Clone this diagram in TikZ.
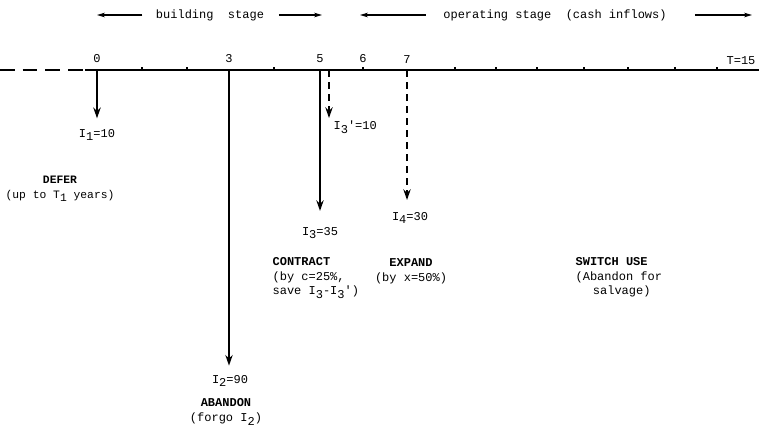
\documentclass[tikz,border=0pt]{standalone}
\usepackage{fontspec}
\setmonofont{Liberation Mono}
\usepackage{tikz}
\usetikzlibrary{positioning, arrows.meta}

% chỉ số dưới kiểu máy chữ
\newcommand{\dn}[1]{\raisebox{-0.55ex}{#1}}

\begin{document}
\begin{tikzpicture}[>={Stealth[length=8pt, width=5.5pt]}, x=0.75pt, y=-0.75pt,
    txt/.style={font=\fontsize{9}{11}\selectfont\ttfamily, inner sep=1pt},
    captxt/.style={txt, align=center},
    stagearrow/.style={-{Stealth[length=6pt, width=3.5pt]}, line width=0.9pt},
    flow/.style={->, line width=1.7pt},
    opt/.style={->, line width=1.4pt, dash pattern=on 5pt off 4pt}]

    \useasboundingbox (0,0) rectangle (759,430);

    % =================================================================
    % TRỤC THỜI GIAN
    % =================================================================
    \draw[line width=1.1pt, dash pattern=on 11pt off 6pt] (0,70) -- (85,70);
    \draw[line width=1.1pt] (85,70) -- (759,70);

    \foreach \k/\x in {0/97, 1/142, 2/187, 3/229, 4/274, 5/320, 6/363, 7/407,
                       8/455, 9/496, 10/537, 11/584, 12/628, 13/675, 14/717}
        \coordinate (t\k) at (\x,70);
    \foreach \k in {1,2,4,6,8,9,10,11,12,13,14}
        \draw[line width=0.8pt] (t\k) -- ++(0,-3);
    \foreach \k in {0,3,5,6,7}
        \node[txt, above=4pt of t\k] (y\k) {\k};
    \node[txt, anchor=south east] (yT) at (757,66) {T=15};

    % Các giai đoạn
    \node[txt] (build) at (210,15) {building\ \ stage};
    \coordinate (b0) at (97,15);
    \coordinate (b1) at (322,15);
    \draw[stagearrow, shorten <=9pt] (build) -- (b0);
    \draw[stagearrow, shorten <=10pt] (build) -- (b1);

    \node[txt] (oper) at (555,15) {operating stage\ \ (cash inflows)};
    \coordinate (o0) at (360,15);
    \coordinate (o1) at (752,15);
    \draw[stagearrow, shorten <=12pt] (oper) -- (o0);
    \draw[stagearrow, shorten <=20pt] (oper) -- (o1);

    % =================================================================
    % CÁC KHOẢN ĐẦU TƯ
    % =================================================================
    \node[txt] (i1) at (97,135) {I\dn{1}=10};
    \draw[flow, shorten >=7pt] (t0) -- (i1);

    \node[txt] (i2) at (230,381) {I\dn{2}=90};
    \draw[flow, shorten >=6pt] (t3) -- (t3 |- i2.north);

    \node[txt] (i3) at (320,233) {I\dn{3}=35};
    \draw[flow, shorten >=11pt] (t5) -- (i3);

    \coordinate (t5b) at (329,70);
    \coordinate (c3) at (329,118);
    \node[txt, anchor=west] (i3p) at (332,127) {I\dn{3}'=10};
    \draw[opt] (t5b) -- (c3);

    \node[txt] (i4) at (410,218) {I\dn{4}=30};
    \draw[opt, shorten >=8pt] (t7) -- (t7 |- i4.north);

    % =================================================================
    % CÁC QUYỀN CHỌN
    % =================================================================
    \node[captxt, font=\fontsize{8.5}{11}\selectfont\ttfamily] (defer) at (60,189)
        {\textbf{DEFER}\\(up to T\dn{1} years)};
    \node[captxt] (aband) at (226,412) {\textbf{ABANDON}\\(forgo I\dn{2})};
    \node[txt, align=left, anchor=north west] (contr) at (271,256)
        {\textbf{CONTRACT}\\(by c=25\%,\\save I\dn{3}-I\dn{3}')};
    \node[captxt] (expand) at (411,271) {\textbf{EXPAND}\\(by x=50\%)};
    \node[txt, align=left, anchor=north west] (switch) at (574,256)
        {\textbf{SWITCH USE}\\(Abandon for\\\hspace*{13pt}salvage)};

\end{tikzpicture}
\end{document}
